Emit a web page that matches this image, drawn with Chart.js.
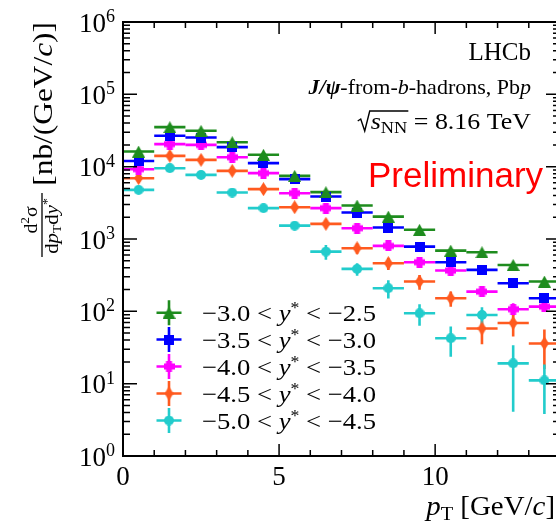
<!DOCTYPE html>
<html><head><meta charset="utf-8">
<script src="https://cdn.jsdelivr.net/npm/chart.js@4"></script>
<style>
html,body{margin:0;padding:0;background:#fff;overflow:hidden;width:556px;height:522px}
#wrap{position:absolute;left:0;top:0;width:580px;height:522px}
</style>
</head><body><div id="wrap"><canvas id="c" width="580" height="522"></canvas></div>
<script>
// ---- data ----
const ptCenters = [0.5,1.5,2.5,3.5,4.5,5.5,6.5,7.5,8.5,9.5,10.5,11.5,12.5,13.5];
const ptHalfWidth = [0.5,0.5,0.5,0.5,0.5,0.5,0.5,0.5,0.5,0.5,0.5,0.5,0.5,0.5];
const yStarLow  = ['\u22123.0','\u22123.5','\u22124.0','\u22124.5','\u22125.0'];
const yStarHigh = ['\u22122.5','\u22123.0','\u22123.5','\u22124.0','\u22124.5'];

const xsec_m30_m25 = [16200,35200,31300,21800,14600,7460,4440,2900,2040,1340,691,657,438,258];
const err_m30_m25  = [500,1100,1000,700,450,250,150,100,75,55,35,35,30,25];
const xsec_m35_m30 = [12000,26700,25300,18600,11200,6720,3860,2320,1440,785,478,374,245,152];
const err_m35_m30  = [400,850,800,600,350,220,130,85,60,40,28,25,22,18];
const xsec_m40_m35 = [9230,20500,20000,13500,8130,4300,2670,1410,803,478,366,187,107,116];
const err_m40_m35  = [300,650,650,450,270,160,100,65,45,35,28,22,22,16];
const xsec_m45_m40 = [6930,14100,12400,8750,4890,2750,1620,746,462,258,152,58,69,36];
const err_m45_m40  = [250,450,400,300,180,110,90,120,90,60,36,23,24,20];
const xsec_m50_m45 = [4780,9530,7700,4390,2670,1530,670,386,209,94,42.5,89,19.1,11.1];
const err_m50_m45  = [180,330,280,180,120,150,155,75,59,31,19,25,15,7.3];

const xTickValues = [0,1,2,3,4,5,6,7,8,9,10,11,12,13,14];
const xTickLabels = {0:'0',5:'5',10:'10'};
const yDecades = [0,1,2,3,4,5,6];
const yMinorMult = [2,3,4,5,6,7,8,9];

const seriesValues = [xsec_m30_m25,xsec_m35_m30,xsec_m40_m35,xsec_m45_m40,xsec_m50_m45];
const seriesErrors = [err_m30_m25,err_m35_m30,err_m40_m35,err_m45_m40,err_m50_m45];

// ---- styles ----
const colors = ['#1e8c1e','#0000ff','#ff00ff','#ff5a1f','#22cccc'];
const SERIF = '"Liberation Serif","DejaVu Serif",serif';
const F = (size, style) => (style||'') + ' ' + size + 'px ' + SERIF;

function makeMarker(kind, color){
  const c = document.createElement('canvas');
  let w=12,h=12;
  if(kind==='tri'){w=13;h=12;}
  if(kind==='sq'){w=10;h=10;}
  if(kind==='cross'){w=11;h=11;}
  if(kind==='dia'){w=9;h=14;}
  if(kind==='circ'){w=10;h=10;}
  c.width=w;c.height=h;
  const g=c.getContext('2d');
  g.fillStyle=color;
  g.beginPath();
  if(kind==='tri'){g.moveTo(w/2,0);g.lineTo(w,h);g.lineTo(0,h);g.closePath();}
  else if(kind==='sq'){g.rect(0,0,w,h);}
  else if(kind==='cross'){const a=3;g.rect(w/2-a,0,2*a,h);g.rect(0,h/2-a,w,2*a);}
  else if(kind==='dia'){g.moveTo(w/2,0);g.lineTo(w,h/2);g.lineTo(w/2,h);g.lineTo(0,h/2);g.closePath();}
  else {g.arc(w/2,h/2,w/2,0,Math.PI*2);}
  g.fill();
  return c;
}
const markerKinds = ['tri','sq','cross','dia','circ'];
const markers = markerKinds.map((k,i)=>makeMarker(k,colors[i]));

function rich(ctx, segs, x, y, align, sx){
  sx = sx||1;
  let w=0;
  segs.forEach(s=>{ctx.font=s.f; s.w=ctx.measureText(s.t).width+(s.sp||0); w+=s.w;});
  const W=w*sx;
  const start = align==='right'? x-W : (align==='center'? x-W/2 : x);
  ctx.save();
  ctx.translate(start,y); ctx.scale(sx,1);
  let cx=0;
  segs.forEach(s=>{ctx.font=s.f; s.x=start+cx*sx; ctx.fillText(s.t,cx,(s.dy||0)); cx+=s.w; s.end=start+cx*sx;});
  ctx.restore();
  return {start, end:start+W, segs};
}

const errorBars = {
  id:'errorBars',
  beforeDatasetsDraw(chart){
    const {ctx, chartArea:a, scales:{x,y}} = chart;
    ctx.save();
    ctx.beginPath(); ctx.rect(a.left,a.top,a.right-a.left,a.bottom-a.top); ctx.clip();
    ctx.lineWidth=2.6; ctx.lineCap='butt';
    seriesValues.forEach((vals,i)=>{
      ctx.strokeStyle=colors[i];
      vals.forEach((v,j)=>{
        const e=seriesErrors[i][j];
        const px=x.getPixelForValue(ptCenters[j]);
        const py=y.getPixelForValue(v);
        ctx.beginPath();
        ctx.moveTo(x.getPixelForValue(ptCenters[j]-ptHalfWidth[j]),py);
        ctx.lineTo(x.getPixelForValue(ptCenters[j]+ptHalfWidth[j]),py);
        const lo=Math.max(v-e,0.5);
        ctx.moveTo(px,y.getPixelForValue(v+e));
        ctx.lineTo(px,y.getPixelForValue(lo));
        ctx.stroke();
      });
    });
    ctx.restore();
  }
};

const decorations = {
  id:'decorations',
  afterDraw(chart){
    const {ctx, chartArea:a, scales:{x,y}} = chart;
    ctx.save();
    // frame
    ctx.strokeStyle='#000'; ctx.lineWidth=2;
    ctx.strokeRect(a.left,a.top,a.right-a.left,a.bottom-a.top);
    // ticks
    ctx.lineWidth=1.5;
    ctx.beginPath();
    xTickValues.forEach(v=>{
      const px=x.getPixelForValue(v);
      const L = (v in xTickLabels)? 12:6;
      ctx.moveTo(px,a.bottom); ctx.lineTo(px,a.bottom-L);
      ctx.moveTo(px,a.top); ctx.lineTo(px,a.top+L);
    });
    yDecades.forEach(d=>{
      const py=y.getPixelForValue(Math.pow(10,d));
      ctx.moveTo(a.left,py); ctx.lineTo(a.left+14,py);
      ctx.moveTo(a.right,py); ctx.lineTo(a.right-14,py);
      if(d<6) yMinorMult.forEach(m=>{
        const pm=y.getPixelForValue(m*Math.pow(10,d));
        ctx.moveTo(a.left,pm); ctx.lineTo(a.left+7,pm);
        ctx.moveTo(a.right,pm); ctx.lineTo(a.right-7,pm);
      });
    });
    ctx.stroke();
    // tick labels
    ctx.fillStyle='#000'; ctx.textBaseline='alphabetic';
    Object.keys(xTickLabels).forEach(k=>{
      const px=x.getPixelForValue(+k);
      rich(ctx,[{t:xTickLabels[k],f:F(27)}],px,485,'center');
    });
    yDecades.forEach(d=>{
      const py=y.getPixelForValue(Math.pow(10,d));
      rich(ctx,[{t:'10',f:F(27)},{t:String(d),f:F(18),dy:-9.5}],115,py+9.5,'right');
    });
    // x title
    rich(ctx,[{t:'p',f:F(27,'italic')},{t:'T',f:F(19),dy:5},{t:' [GeV/',f:F(27)},{t:'c',f:F(27,'italic')},{t:']',f:F(27)}],555,515,'right',1.07);
    // y title (rotated)
    ctx.save();
    ctx.rotate(-Math.PI/2);
    rich(ctx,[{t:'d',f:F(18)},{t:'2',f:F(12),dy:-8},{t:'\u03C3',f:F(18)}],-220,37,'center',1.1);
    rich(ctx,[{t:'d',f:F(18)},{t:'p',f:F(18,'italic')},{t:'T',f:F(12),dy:3},{t:'d',f:F(18)},{t:'y',f:F(18,'italic')},{t:'*',f:F(12),dy:-7}],-226,58,'center',1.15);
    ctx.lineWidth=1.3; ctx.beginPath(); ctx.moveTo(-257,42); ctx.lineTo(-193,42); ctx.stroke();
    rich(ctx,[{t:'[nb/(GeV/',f:F(28)},{t:'c',f:F(28,'italic')},{t:')]',f:F(28)}],-22,52,'right',1.12);
    ctx.restore();
    // top-right labels
    rich(ctx,[{t:'LHCb',f:F(25)}],531,60,'right');
    rich(ctx,[{t:'J/\u03C8',f:F(22,'italic bold')},{t:'-from-',f:F(22)},{t:'b',f:F(22,'italic')},{t:'-hadrons, Pb',f:F(22)},{t:'p',f:F(22,'italic')}],531,94,'right');
    const r = rich(ctx,[{t:'s',f:F(24,'italic')},{t:'NN',f:F(17),dy:4},{t:' = 8.16 TeV',f:F(24)}],531,129,'right',1.08);
    const s0=r.start, nnEnd=r.segs[1].end;
    ctx.lineWidth=1.4; ctx.beginPath();
    ctx.moveTo(s0-13,121); ctx.lineTo(s0-10,119); ctx.lineTo(s0-6,131); ctx.lineTo(s0-1,111); ctx.lineTo(nnEnd+1,111);
    ctx.stroke();
    // Preliminary
    ctx.fillStyle='#ff0000';
    ctx.font='35px "Liberation Sans","Arial",sans-serif';
    ctx.fillText('Preliminary',368,187);
    // legend
    ctx.fillStyle='#000';
    const rows=[312.7,339.5,366.5,393.5,420.5];
    seriesValues.forEach((_,i)=>{
      const ry=rows[i], mx=169;
      ctx.strokeStyle=colors[i]; ctx.lineWidth=2.6;
      ctx.beginPath(); ctx.moveTo(mx-12.5,ry); ctx.lineTo(mx+12.5,ry); ctx.moveTo(mx,ry-12.5); ctx.lineTo(mx,ry+12.5); ctx.stroke();
      const m=markers[i]; ctx.drawImage(m,mx-m.width/2,ry-m.height/2);
      rich(ctx,[{t:yStarLow[i]+' < ',f:F(24)},{t:'y',f:F(24,'italic')},{t:'*',f:F(16),dy:-8},{t:' < '+yStarHigh[i],f:F(24)}],202,ry+8,'left',1.11);
    });
    ctx.restore();
  }
};

const datasets = seriesValues.map((vals,i)=>({
  label: yStarLow[i]+' < y* < '+yStarHigh[i],
  data: ptCenters.map((p,j)=>({x:p,y:vals[j]})),
  pointStyle: markers[i],
  pointRadius: 6,
  pointHoverRadius: 6,
  backgroundColor: colors[i],
  borderColor: colors[i],
  showLine:false
}));

new Chart(document.getElementById('c'),{
  type:'scatter',
  data:{datasets},
  options:{
    responsive:false, animation:false, events:[],
    layout:{padding:{left:123,top:22,right:20,bottom:66}},
    scales:{
      x:{type:'linear',min:0,max:14,display:false},
      y:{type:'logarithmic',min:1,max:1e6,display:false}
    },
    plugins:{legend:{display:false},tooltip:{enabled:false}}
  },
  plugins:[errorBars,decorations]
});
</script>
</body></html>
